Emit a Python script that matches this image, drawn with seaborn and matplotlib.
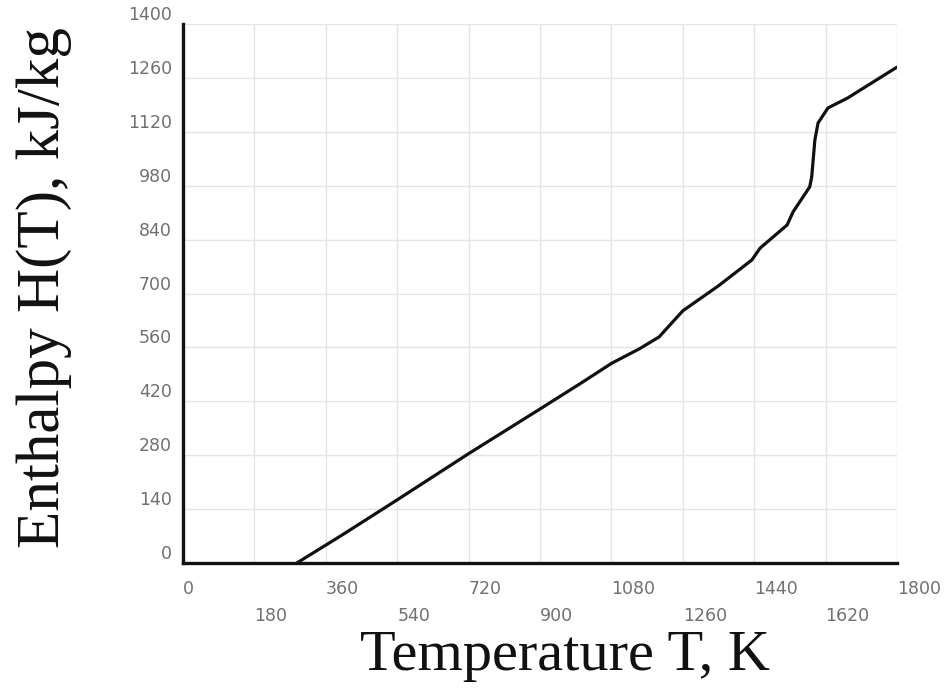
import numpy as np
import pandas as pd
import matplotlib
matplotlib.use("Agg")
import matplotlib.pyplot as plt
import seaborn as sns

# Enthalpy curve
temperature = [287, 400, 540, 720, 900, 1000, 1081, 1150, 1200, 1260, 1350,
               1434, 1455, 1523, 1538, 1580, 1585, 1593, 1601, 1626, 1676,
               1699, 1800]
enthalpy = [0, 72, 164, 284, 400, 465, 519, 556, 587, 655, 720,
            787, 818, 878, 912, 977, 1003, 1099, 1143, 1182, 1208,
            1223, 1288]

x_ticks = list(range(0, 1801, 180))
y_ticks = list(range(0, 1401, 140))

df = pd.DataFrame({"T": temperature, "H": enthalpy})

sns.set_style("whitegrid")
plt.rcParams["font.family"] = ["DejaVu Sans"]

fig = plt.figure(figsize=(9.51, 6.98), dpi=100)
ax = fig.add_axes([183 / 951, 1 - 563 / 698, (897 - 183) / 951, (563 - 24) / 698])

sns.lineplot(data=df, x="T", y="H", ax=ax, color="#111111", linewidth=2.3)

ax.set_xlim(0, 1800)
ax.set_ylim(0, 1400)
ax.set_xticks(x_ticks)
ax.set_yticks(y_ticks)
ax.grid(True, color="#e4e4e4", linewidth=1.0)
ax.set_axisbelow(True)

for side in ["top", "right"]:
    ax.spines[side].set_visible(False)
for side in ["left", "bottom"]:
    ax.spines[side].set_visible(True)
    ax.spines[side].set_color("#111111")
    ax.spines[side].set_linewidth(2.4)
    ax.spines[side].set_zorder(5)

ax.tick_params(axis="x", length=9, width=1, color="#e4e4e4", pad=3,
               labelsize=12.5, labelcolor="#707070")
ax.tick_params(axis="y", length=0, pad=8, labelsize=12.5, labelcolor="#707070")

# alternate x tick labels on two rows, left aligned at the tick
xlabels = ax.set_xticklabels([str(t) for t in x_ticks])
for i, lab in enumerate(xlabels):
    lab.set_horizontalalignment("left")
    if i % 2 == 1:
        lab.set_y(-0.05)
for lab in ax.set_yticklabels([str(t) for t in y_ticks]):
    lab.set_verticalalignment("bottom")

ax.set_xlabel("")
ax.set_ylabel("")
fig.text(565 / 951, 1 - 656 / 698, "Temperature T, K", ha="center", va="center",
         family="Liberation Serif", fontsize=42, color="#111111")
fig.text(44 / 951, 1 - 288 / 698, "Enthalpy H(T), kJ/kg", ha="center", va="center",
         rotation=90, family="Liberation Serif", fontsize=44, color="#111111")

fig.savefig("out.png", dpi=100)
